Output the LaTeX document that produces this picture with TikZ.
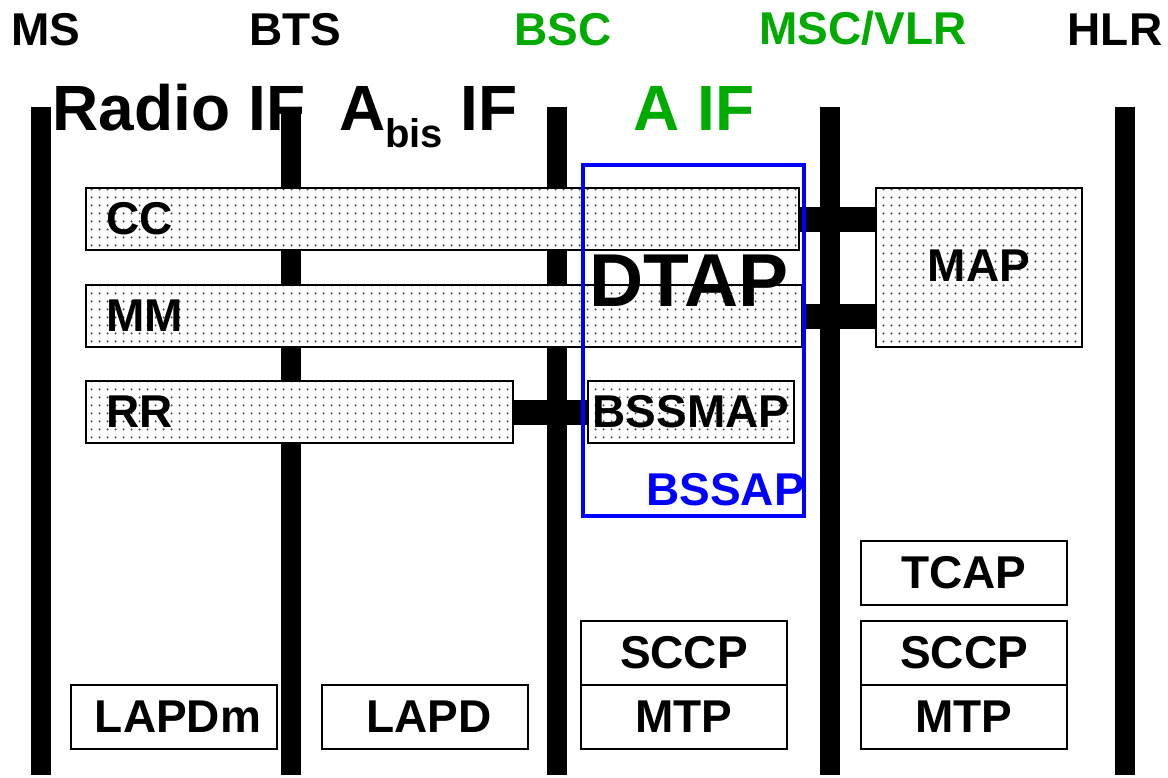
\documentclass[tikz,border=0pt]{standalone}
\usepackage{fontspec}
\setmainfont{Liberation Sans}
\usepackage{tikz}
\usetikzlibrary{positioning,patterns.meta}
\definecolor{GSMgreen}{HTML}{00AA00}
\definecolor{GSMblue}{HTML}{0000FF}
\newcommand{\gsmfont}{\fontsize{46}{50}\selectfont\bfseries}
\newcommand{\iffont}{\fontsize{64}{70}\selectfont\bfseries}
\tikzdeclarepattern{
  name=gsmdots,
  type=uncolored,
  bottom left={(0pt,0pt)},
  top right={(8pt,8pt)},
  tile size={(8pt,8pt)},
  code={\tikzset{x=1pt,y=1pt}\fill (4,4) circle [radius=1.3];}
}
\tikzset{
  gsm/bar/.style={line width=20pt},
  gsm/link/.style={line width=25pt},
  gsm/layer/.style={draw, line width=2.5pt, preaction={fill=white}, pattern=gsmdots, pattern color=black!70,
    anchor=north west, inner sep=0pt, outer sep=0pt, minimum height=62pt, font=\gsmfont},
  gsm/tagged/.style={gsm/layer, text width=#1, align=left, inner xsep=20pt},
  gsm/stack/.style={draw, line width=2.5pt, fill=white, inner sep=0pt, outer sep=0pt, minimum width=206pt, minimum height=64pt, font=\gsmfont},
  gsm/entity/.style={font=\gsmfont, anchor=base, inner sep=0pt},
  gsm/iface/.style={font=\iffont, anchor=base, inner sep=0pt},
  gsm/frame/.style={draw=GSMblue, line width=3.5pt, anchor=north west, inner sep=0pt, outer sep=0pt}
}

\begin{document}
\begin{tikzpicture}[x=1pt, y=-1pt, node distance=0pt]
  \useasboundingbox (0,0) rectangle (1168,777);
  % network elements
  \node[gsm/entity] (ms) at (46,45) {MS};
  \node[gsm/entity] (bts) at (295,45) {BTS};
  \node[gsm/entity, text=GSMgreen] (bsc) at (563,45) {BSC};
  \node[gsm/entity, text=GSMgreen] (msc) at (863,44) {MSC/VLR};
  \node[gsm/entity] (hlr) at (1115,45) {HLR};
  \foreach \x in {41,291,557,830,1125}
    \draw[gsm/bar] (\x,107) -- (\x,775);
  % interfaces
  \node[gsm/iface] (radioif) at (179,130) {Radio IF};
  \node[gsm/iface, anchor=base west] (abisif) at (339,130) {A\raisebox{-17pt}{\fontsize{40}{40}\selectfont bis} IF};
  \node[gsm/iface, text=GSMgreen] (aif) at (694,130) {A IF};
  % layer 3
  \node[gsm/tagged=673pt, minimum width=713pt] (cc) at (86,188) {CC};
  \node[gsm/tagged=676pt, minimum width=716pt] (mm) at (86,285) {MM};
  \node[gsm/tagged=387pt, minimum width=427pt] (rr) at (86,381) {RR};
  \node[gsm/layer, minimum width=206pt] (bssmap) at (588,381) {BSSMAP};
  \node[gsm/layer, minimum width=206pt, minimum height=159pt] (map) at (876,188) {\raisebox{4pt}{MAP}};
  \draw[gsm/link] (cc.east) -- (cc.east -| map.west);
  \draw[gsm/link] (mm.east) -- (mm.east -| map.west);
  \draw[gsm/link] (rr.east) -- (bssmap.west);
  \node[gsm/frame, minimum width=221pt, minimum height=351pt] (bssap) at (583,165) {};
  \node[gsm/entity, text=GSMblue, anchor=base east] (bssaptxt) at (805,505) {BSSAP};
  \node[font=\fontsize{75}{80}\selectfont\bfseries, anchor=base, inner sep=0pt] (dtap) at (689,306) {DTAP};
  % layer 2 and SS7
  \node[gsm/stack, anchor=north west] (lapdm) at (71,685) {\hspace{8pt}LAPDm};
  \node[gsm/stack, anchor=north west] (lapd) at (322,685) {\hspace{8pt}LAPD};
  \node[gsm/stack, anchor=north west] (sccpA) at (581,621) {SCCP};
  \node[gsm/stack, below=of sccpA] (mtpA) {MTP};
  \node[gsm/stack, anchor=north west] (tcap) at (861,541) {TCAP};
  \node[gsm/stack, below=16pt of tcap] (sccpB) {SCCP};
  \node[gsm/stack, below=of sccpB] (mtpB) {MTP};
\end{tikzpicture}
\end{document}
